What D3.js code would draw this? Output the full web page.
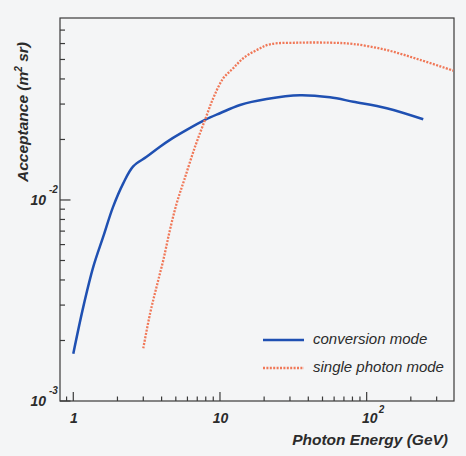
<html>

<head>
    <meta charset="utf-8">
    <title>Acceptance vs Photon Energy</title>
    <style>
        body { margin: 0; background: #f4f5f6; }
        text { font-family: "Liberation Sans", Arial, sans-serif; fill: #2b2b2b; }
    </style>
</head>

<body>
    <script src="https://cdn.jsdelivr.net/npm/d3@7/dist/d3.min.js" charset="utf-8"></script>
    <script>
        // conversion mode (solid blue)
        var convEnergy = [1, 1.17, 1.37, 1.6, 1.87, 2.19, 2.56, 3.16, 3.9, 4.56, 5.93, 7.9, 10, 13.7, 20.8, 35.1, 56.2, 81.1, 137, 243];
        var convAcc = [0.00172, 0.00294, 0.00466, 0.00657, 0.00927, 0.0121, 0.0147, 0.0164, 0.0184, 0.0199, 0.0223, 0.025, 0.027, 0.0297, 0.0318, 0.0332, 0.0324, 0.0308, 0.0286, 0.0252];
        // single photon mode (dotted red)
        var singleEnergy = [3, 3.34, 3.7, 4.11, 4.56, 5.07, 5.71, 6.76, 7.9, 9.0, 10.5, 12.3, 14.4, 17.8, 21.9, 35.1, 56.2, 81.1, 137, 231, 389];
        var singleAcc = [0.00183, 0.00273, 0.00371, 0.00503, 0.0071, 0.00963, 0.0126, 0.0184, 0.025, 0.0321, 0.0402, 0.0452, 0.0507, 0.0557, 0.0595, 0.0606, 0.0606, 0.0597, 0.0557, 0.0498, 0.044];
        var seriesNames = ["conversion mode", "single photon mode"];
        var xMajor = [1, 10, 100];
        var xMajorLabels = ["1", "10", "10"];
        var xMajorSup = ["", "", "2"];
        var yMajor = [0.001, 0.01];
        var yMajorSup = ["-3", "-2"];

        var width = 466, height = 456;
        var pLeft = 60, pRight = 454, pTop = 18, pBottom = 401;

        var svg = d3.select("body")
            .append("svg")
            .attr("width", width)
            .attr("height", height);

        var x = d3.scaleLog().domain([0.8117, 393.9]).range([pLeft, pRight]);
        var y = d3.scaleLog().domain([0.001, 0.0804]).range([pBottom, pTop]);

        // minor ticks for each decade
        var xMinor = [], yMinor = [];
        [0.1, 1, 10, 100].forEach(function (d) {
            for (var k = 2; k <= 9; k++) {
                var v = d * k;
                if (v > x.domain()[0] && v < x.domain()[1]) xMinor.push(v);
            }
        });
        [0.001, 0.01].forEach(function (d) {
            for (var k = 2; k <= 9; k++) {
                var v = d * k;
                if (v < y.domain()[1] * 0.99) yMinor.push(v);
            }
        });

        var ax = svg.append("g").attr("stroke", "#3a3a3a").attr("stroke-width", 1.2);
        ax.append("rect")
            .attr("x", pLeft).attr("y", pTop)
            .attr("width", pRight - pLeft).attr("height", pBottom - pTop)
            .attr("fill", "none");
        ax.selectAll(".xmin").data(xMinor).enter().append("line")
            .attr("x1", function (d) { return x(d); }).attr("x2", function (d) { return x(d); })
            .attr("y1", pBottom).attr("y2", pBottom - 4.5);
        ax.selectAll(".xmaj").data(xMajor).enter().append("line")
            .attr("x1", function (d) { return x(d); }).attr("x2", function (d) { return x(d); })
            .attr("y1", pBottom).attr("y2", pBottom - 9);
        ax.selectAll(".ymin").data(yMinor).enter().append("line")
            .attr("y1", function (d) { return y(d); }).attr("y2", function (d) { return y(d); })
            .attr("x1", pLeft).attr("x2", pLeft + 5);
        ax.selectAll(".ymaj").data(yMajor).enter().append("line")
            .attr("y1", function (d) { return y(d); }).attr("y2", function (d) { return y(d); })
            .attr("x1", pLeft).attr("x2", pLeft + 10.5);

        // x tick labels
        xMajor.forEach(function (d, i) {
            svg.append("text")
                .attr("x", x(d) + (i == 2 ? 3 : 0.5)).attr("y", 423)
                .attr("text-anchor", "middle")
                .attr("font-size", 14).attr("font-weight", "bold").attr("font-style", "italic")
                .text(xMajorLabels[i]);
            if (xMajorSup[i]) {
                svg.append("text")
                    .attr("x", x(d) + 12).attr("y", 413)
                    .attr("font-size", 10).attr("font-weight", "bold").attr("font-style", "italic")
                    .text(xMajorSup[i]);
            }
        });
        // y tick labels
        yMajor.forEach(function (d, i) {
            svg.append("text")
                .attr("x", 46).attr("y", y(d) + 5)
                .attr("text-anchor", "end")
                .attr("font-size", 14).attr("font-weight", "bold").attr("font-style", "italic")
                .text("10");
            svg.append("text")
                .attr("x", 49).attr("y", y(d) - 7)
                .attr("font-size", 10).attr("font-weight", "bold").attr("font-style", "italic")
                .text(yMajorSup[i]);
        });

        // axis titles
        svg.append("text")
            .attr("x", 448).attr("y", 445)
            .attr("text-anchor", "end")
            .attr("font-size", 15.5).attr("font-weight", "bold").attr("font-style", "italic")
            .text("Photon Energy (GeV)");
        var yt = svg.append("text")
            .attr("transform", "translate(28,42) rotate(-90)")
            .attr("text-anchor", "end")
            .attr("font-size", 15.5).attr("font-weight", "bold").attr("font-style", "italic");
        yt.append("tspan").text("Acceptance (m");
        yt.append("tspan").attr("dy", -6).attr("font-size", 10).text("2");
        yt.append("tspan").attr("dy", 6).text(" sr)");

        var line = d3.line()
            .x(function (d) { return x(d[0]); })
            .y(function (d) { return y(d[1]); })
            .curve(d3.curveCatmullRom.alpha(0.5));

        svg.append("path")
            .attr("d", line(d3.zip(convEnergy, convAcc)))
            .attr("fill", "none").attr("stroke", "#1f50b2").attr("stroke-width", 2.5);
        svg.append("path")
            .attr("d", line(d3.zip(singleEnergy, singleAcc)))
            .attr("fill", "none").attr("stroke", "#f07858").attr("stroke-width", 2.3)
            .attr("stroke-dasharray", "2,1.4");

        // legend
        var lg = svg.append("g");
        lg.append("line").attr("x1", 263).attr("x2", 304).attr("y1", 340).attr("y2", 340)
            .attr("stroke", "#1f50b2").attr("stroke-width", 2.5);
        lg.append("line").attr("x1", 263).attr("x2", 304).attr("y1", 368).attr("y2", 368)
            .attr("stroke", "#f07858").attr("stroke-width", 2.3).attr("stroke-dasharray", "2,1.4");
        lg.append("text").attr("x", 313).attr("y", 344)
            .attr("font-size", 15).attr("font-style", "italic").text(seriesNames[0]);
        lg.append("text").attr("x", 313).attr("y", 372)
            .attr("font-size", 15).attr("font-style", "italic").text(seriesNames[1]);
    </script>
</body>

</html>
